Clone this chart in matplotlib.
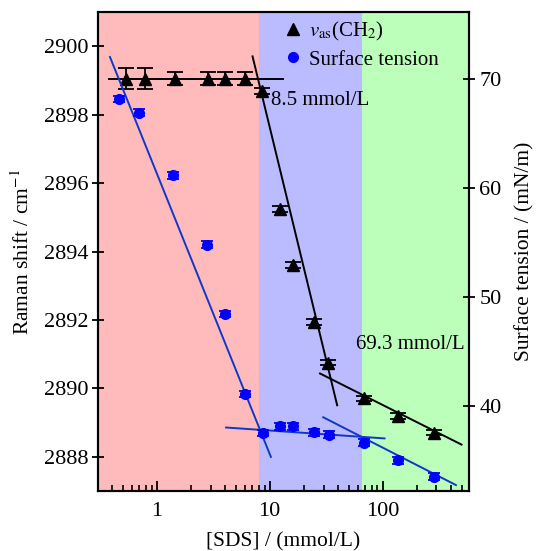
import matplotlib
matplotlib.use("Agg")
import matplotlib.pyplot as plt
from matplotlib.lines import Line2D

plt.rcParams['font.family'] = ['Liberation Serif', 'DejaVu Serif']
plt.rcParams['mathtext.fontset'] = 'stix'
plt.rcParams['font.size'] = 16

# Raman shift of v_as(CH2) vs [SDS]
sds_raman = [0.53, 0.78, 1.44, 2.83, 4.0, 6.0, 8.5, 12.4, 16.2, 24.7, 33.0, 68.4, 138.0, 287.0]
raman = [2899.06, 2899.06, 2899.06, 2899.06, 2899.06, 2899.06, 2898.69,
         2895.25, 2893.6, 2891.94, 2890.75, 2889.7, 2889.18, 2888.70]
raman_err = [0.3, 0.3, 0.18, 0.18, 0.18, 0.18, 0.08, 0.08, 0.08, 0.08, 0.08, 0.08, 0.08, 0.08]

# surface tension vs [SDS]
sds_st = [0.466, 0.69, 1.40, 2.76, 4.05, 6.08, 8.64, 12.3, 16.1, 24.6, 33.2, 68.4, 138.0, 287.0]
tension = [68.14, 66.9, 61.13, 54.77, 48.41, 41.07, 37.5, 38.1, 38.1, 37.55, 37.34, 36.6, 34.98, 33.5]
tension_err = [0.3] * 14

# fitted lines (end points)
fit_raman_x = [[0.38, 13.2], [7.05, 39.6], [27.9, 500.0]]
fit_raman_y = [[2899.06, 2899.06], [2899.71, 2889.5], [2890.43, 2888.35]]
fit_st_x = [[0.385, 10.25], [4.11, 104.0], [29.8, 446.0]]
fit_st_y = [[72.0, 35.3], [38.0, 37.0], [38.94, 32.72]]

# regions
region_edges = [0.3, 8.0, 66.0, 580.0]
region_colors = ['#ffbbbb', '#bbbbff', '#bbffbb']

fig = plt.figure(figsize=(5.37, 5.51), dpi=100)
ax = fig.add_axes([0.182, 0.1094, 0.691, 0.8683])
ax2 = ax.twinx()

for i in range(3):
    ax.axvspan(region_edges[i], region_edges[i + 1], color=region_colors[i], lw=0, zorder=0)

ax.set_xscale('log')
ax.set_xlim(region_edges[0], region_edges[-1])
ax.set_ylim(2887, 2901)
ax2.set_ylim(32.2, 76.1)

for fx, fy in zip(fit_raman_x, fit_raman_y):
    ax.plot(fx, fy, color='black', lw=1.4, zorder=3)
for fx, fy in zip(fit_st_x, fit_st_y):
    ax2.plot(fx, fy, color='#1038c8', lw=1.4, zorder=3)

ax.errorbar(sds_raman, raman, yerr=raman_err, fmt='^', color='black', ms=9,
            capsize=6, elinewidth=1.3, capthick=1.3, zorder=4)
ax2.errorbar(sds_st, tension, yerr=tension_err, fmt='o', color='blue', ms=7,
             capsize=4.5, elinewidth=1.3, capthick=1.3, zorder=4)

ax.text(10.25, 2898.42, '8.5 mmol/L', ha='left', va='center', fontsize=15)
ax.text(58.7, 2891.29, '69.3 mmol/L', ha='left', va='center', fontsize=15)

ax.set_yticks([2888, 2890, 2892, 2894, 2896, 2898, 2900])
ax.set_xticks([1, 10, 100])
ax.set_xticklabels(['1', '10', '100'])
ax2.set_yticks([40, 50, 60, 70])

ax.tick_params(axis='x', which='major', direction='in', length=7, width=1.3, pad=8)
ax.tick_params(axis='x', which='minor', direction='in', length=4, width=1.2)
ax.tick_params(axis='y', which='major', direction='inout', length=9, width=1.3, pad=2)
ax.tick_params(axis='y', which='minor', left=False)
ax2.tick_params(axis='y', direction='inout', length=9, width=1.3, pad=3)

for a in (ax, ax2):
    for s in a.spines.values():
        s.set_linewidth(1.5)

ax.set_xlabel('[SDS] / (mmol/L)', labelpad=8, fontsize=15.5)
ax.set_ylabel('Raman shift / cm$^{-1}$', labelpad=7, fontsize=15.5)
ax2.set_ylabel('Surface tension / (mN/m)', labelpad=10, fontsize=15.5)

handles = [Line2D([], [], marker='^', color='black', ls='none', ms=9),
           Line2D([], [], marker='o', color='blue', ls='none', ms=7)]
labels = ['$\\mathit{v}_{\\rm as}$(CH$_2$)', 'Surface tension']
ax.legend(handles, labels, loc='upper left', bbox_to_anchor=(0.452, 1.015), fontsize=15,
          frameon=False, handlelength=1.2, handletextpad=0.2, borderaxespad=0.3,
          labelspacing=0.35)

fig.savefig('out.png', dpi=100)
